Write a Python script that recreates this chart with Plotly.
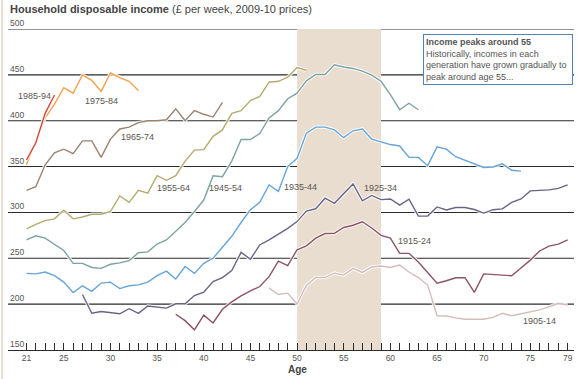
import plotly.graph_objects as go

# ---- data ----
cohorts = ["1905-14", "1915-24", "1925-34", "1935-44", "1945-54",
           "1955-64", "1965-74", "1975-84", "1985-94"]
start_age = {"1905-14": 47, "1915-24": 37, "1925-34": 27, "1935-44": 21,
             "1945-54": 21, "1955-64": 21, "1965-74": 21, "1975-84": 21,
             "1985-94": 21}

inc_1905_14 = [217.4, 210.5, 212, 200.2, 220.5, 229, 229, 233.8, 231.7, 239,
               234.6, 240.5, 241.5, 240, 242.6, 235, 229, 220.8, 187.3, 187,
               185, 183.5, 183.5, 183.5, 185.5, 190, 187.3, 189.3, 191.9, 193.8,
               197, 201, 199]
inc_1915_24 = [189, 182, 172, 188, 179.5, 194.4, 202.4, 209, 214.4, 219.2,
               230, 247, 242, 259.3, 263.6, 272, 277, 277.2, 283.6, 286,
               289.8, 283, 275, 272, 255.4, 255.4, 246, 234.6, 222.9, 225.5,
               228.8, 228.8, 212.8, 233, 232.5, 232, 231, 239.5, 248, 258,
               263.3, 265.5, 270]
inc_1925_34 = [210.5, 190, 192, 191, 189.5, 195, 190, 198, 196.7, 195.7,
               200.4, 200.4, 209.4, 213, 224.6, 229, 236.6, 256.5, 249, 264.5,
               270, 276.4, 282.6, 290, 301.5, 304, 315.5, 310, 320, 331,
               312.7, 318.5, 314, 314.7, 308, 314.4, 296, 296, 306, 302.7,
               305.4, 305.4, 303.2, 299.3, 303, 303.8, 311, 314.7, 323.5, 324.2,
               324.6, 326.2, 330]
inc_1935_44 = [233.5, 233, 235, 231, 224, 212.5, 220, 214, 223, 224,
               217, 220, 221, 224, 231, 236, 227.5, 241, 233.5, 244.5,
               250, 262, 274, 289, 303, 311, 330, 323, 350, 359,
               386.5, 393, 393, 390, 381.5, 389, 391, 380, 377, 374,
               372.5, 360, 360, 351, 371.5, 369, 360.7, 357, 353, 349,
               349.5, 353, 346, 345]
inc_1945_54 = [270, 274.5, 272, 265.5, 258.5, 244.5, 244.5, 240, 239, 243.5,
               245, 247.5, 256, 257, 265.5, 270, 279, 289, 301, 313.5,
               340, 339, 356, 379.5, 379.5, 386, 403, 411, 424, 430,
               443.5, 450.4, 450.4, 461, 458.6, 457, 454, 449.6, 443, 428.4,
               412, 419, 412]
inc_1955_64 = [282, 287, 291, 293, 302.5, 293, 295, 298, 298, 301,
               318, 311, 324, 321, 340, 335, 340, 356, 368, 368.5,
               383, 390, 408, 411, 422, 426.5, 442, 443, 447.5, 458, 455]
inc_1965_74 = [324, 328, 352, 365, 369, 364, 378, 378, 360, 380,
               391, 393, 398, 400, 400, 401, 413, 400, 411, 407, 404, 420]
inc_1975_84 = [352, 377, 403, 418, 436, 430, 450, 444, 432, 452, 447, 443, 433]
inc_1985_94 = [357, 376, 408, 428]

values = {"1905-14": inc_1905_14, "1915-24": inc_1915_24, "1925-34": inc_1925_34,
          "1935-44": inc_1935_44, "1945-54": inc_1945_54, "1955-64": inc_1955_64,
          "1965-74": inc_1965_74, "1975-84": inc_1975_84, "1985-94": inc_1985_94}

colors = {"1905-14": "#d3bcbc", "1915-24": "#8c5366", "1925-34": "#696486",
          "1935-44": "#66a5d8", "1945-54": "#7da3a2", "1955-64": "#b3ab70",
          "1965-74": "#9a8271", "1975-84": "#f6a14c", "1985-94": "#d1483e"}

# label anchor positions (age, income)
label_pos = {"1985-94": (21.9, 427), "1975-84": (29.0, 421.5), "1965-74": (32.85, 382),
             "1955-64": (36.8, 327), "1945-54": (42.3, 327), "1935-44": (50.4, 328),
             "1925-34": (58.9, 327), "1915-24": (62.6, 269), "1905-14": (76.0, 181.7)}

y_ticks = [150, 200, 250, 300, 350, 400, 450, 500]
x_tickvals = list(range(21, 80))
x_labelled = [21, 25, 30, 35, 40, 45, 50, 55, 60, 65, 70, 75, 79]
band = (50, 59)

FONT = "Liberation Sans, Arial, sans-serif"

fig = go.Figure()
for c in cohorts:
    vals = values[c]
    ages = [start_age[c] + i for i in range(len(vals))]
    fig.add_trace(go.Scatter(x=ages, y=vals, mode="lines",
                             line=dict(color="rgba(255,255,255,0.85)", width=3.4),
                             hoverinfo="skip", showlegend=False))
    fig.add_trace(go.Scatter(x=ages, y=vals, mode="lines", name=c,
                             line=dict(color=colors[c], width=1.4),
                             showlegend=False))

shapes = [dict(type="rect", xref="x", yref="y", x0=band[0], x1=band[1],
               y0=150, y1=500, fillcolor="#e9ddcf", line=dict(width=0), layer="below")]
for v in y_ticks[1:]:
    shapes.append(dict(type="line", xref="paper", yref="y", x0=0, x1=1, y0=v, y1=v,
                       line=dict(color="#2b2b2b", width=1.1), layer="below"))
shapes.append(dict(type="line", xref="paper", yref="paper", x0=-0.0106, x1=-0.0106,
                   y0=-0.09, y1=1.095, line=dict(color="#e8ded2", width=2)))

annotations = []
for v in y_ticks:
    annotations.append(dict(xref="paper", yref="y", x=0, y=v, text=str(v),
                            xanchor="left", yanchor="bottom", yshift=-1,
                            showarrow=False, font=dict(size=8.5, color="#555", family=FONT)))
for c in cohorts:
    ax, ay = label_pos[c]
    annotations.append(dict(xref="x", yref="y", x=ax, y=ay, text=c, showarrow=False,
                            xanchor="center", yanchor="middle",
                            font=dict(size=9, color="#5b5550", family=FONT)))
annotations.append(dict(xref="paper", yref="paper", x=0, y=1.063, xanchor="left",
                        yanchor="middle", showarrow=False,
                        text="<b>Household disposable income</b> (£ per week, 2009-10 prices)",
                        font=dict(size=11, color="#444", family=FONT)))
annotations.append(dict(xref="x", yref="paper", x=50, y=-0.061, xanchor="center",
                        yanchor="middle", showarrow=False, text="<b>Age</b>",
                        font=dict(size=10, color="#444", family=FONT)))
annotations.append(dict(xref="paper", yref="paper", x=0.733, y=0.985, xanchor="left",
                        yanchor="top", showarrow=False, align="left",
                        text=("<b>Income peaks around 55</b><br>Historically, incomes in each"
                              "<br>generation have grown gradually to<br>peak around age 55..."),
                        font=dict(size=9, color="#555", family=FONT),
                        bgcolor="white", bordercolor="#4f83b3", borderwidth=1,
                        borderpad=2, width=144))

fig.update_layout(
    width=583, height=379,
    margin=dict(l=8, r=9, t=29.3, b=28.5),
    paper_bgcolor="white", plot_bgcolor="white",
    shapes=shapes, annotations=annotations,
    font=dict(family=FONT, size=9, color="#555"),
    xaxis=dict(range=[19.02, 79.68], tickvals=x_tickvals,
               ticktext=[str(a) if a in x_labelled else "" for a in x_tickvals],
               ticks="inside", ticklen=7, tickwidth=1, tickcolor="#2b2b2b",
               showline=True, linecolor="#2b2b2b", linewidth=1.1,
               showgrid=False, zeroline=False, fixedrange=True,
               tickfont=dict(size=8.5, color="#555", family=FONT)),
    yaxis=dict(range=[150, 500], showgrid=False, zeroline=False,
               showticklabels=False, fixedrange=True),
)

fig.write_html("out.html", config={"displayModeBar": False},
               post_script="document.body.style.margin='0';document.body.style.overflow='hidden';")
